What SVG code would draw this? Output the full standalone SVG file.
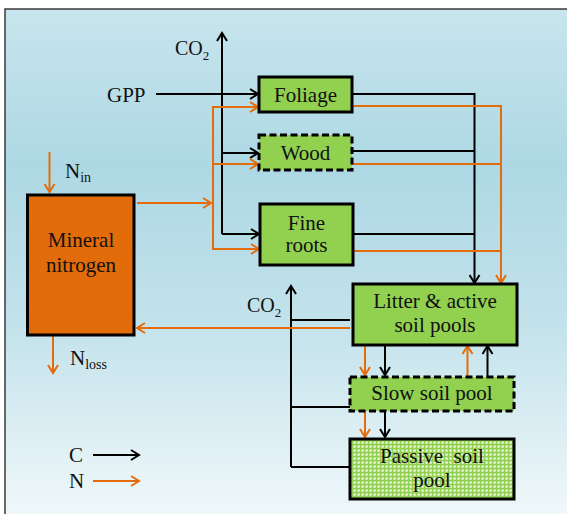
<svg xmlns="http://www.w3.org/2000/svg" width="567" height="514" viewBox="0 0 567 514">
<style>
text{font-family:'Liberation Serif','Times New Roman','DejaVu Serif',serif;fill:#111;}
.lbl{font-size:21px;text-anchor:middle;}
.box{stroke:#000;stroke-width:3;fill:#92d050;}
.dash{stroke-dasharray:7,3.5;}
.c{fill:none;stroke:#000;stroke-width:2;}
.n{fill:none;stroke:#e46c0a;stroke-width:2;}
.ca{marker-end:url(#ah-k);}
.na{marker-end:url(#ah-o);}
</style>
<defs>
<linearGradient id="bg" x1="0" y1="0" x2="0" y2="1">
<stop offset="0" stop-color="#c8e5ed"/>
<stop offset="0.3" stop-color="#add8e4"/>
<stop offset="0.6" stop-color="#c2e2eb"/>
<stop offset="1" stop-color="#f3f9fb"/>
</linearGradient>
<pattern id="chk" width="4" height="4" patternUnits="userSpaceOnUse">
<rect width="4" height="4" fill="#92d050"/>
<rect x="1.5" y="1.5" width="2.2" height="2.2" fill="#f4fbea"/>
</pattern>
<marker id="ah-k" viewBox="-10 -6 12 12" refX="0" refY="0" markerWidth="12" markerHeight="12" markerUnits="userSpaceOnUse" orient="auto">
<path d="M-8,-5 L0,0 L-8,5" fill="none" stroke="#000" stroke-width="2"/>
</marker>
<marker id="ah-o" viewBox="-10 -6 12 12" refX="0" refY="0" markerWidth="12" markerHeight="12" markerUnits="userSpaceOnUse" orient="auto">
<path d="M-8,-5 L0,0 L-8,5" fill="none" stroke="#e46c0a" stroke-width="2"/>
</marker>
</defs>
<rect width="567" height="514" fill="#fff"/>
<rect x="5" y="9" width="575" height="520" fill="url(#bg)" stroke="#3a3a3a" stroke-width="1.5"/>

<g id="connectors">
<path class="c ca" d="M222,234 V33"/>
<path class="c ca" d="M222,153 H258"/>
<path class="c ca" d="M222,234 H259"/>
<path class="c ca" d="M156,94 H258"/>
<path class="c ca" d="M352,94 H474.5 V283"/>
<path class="c" d="M352,151 H474.5"/>
<path class="c" d="M353,234 H474.5"/>
<path class="c ca" d="M291,467 V286"/>
<path class="c" d="M350,320 H291"/>
<path class="c" d="M350,407 H291"/>
<path class="c" d="M350,467 H291"/>
<path class="c ca" d="M385,346 V375"/>
<path class="c ca" d="M487.5,377 V346"/>
<path class="c ca" d="M385,411 V437"/>
<path class="c ca" d="M93,455 H139"/>
<path class="n na" d="M49.5,152 V192"/>
<path class="n na" d="M137,203 H211"/>
<path class="n" d="M213,107 V249"/>
<path class="n na" d="M212,107 H258"/>
<path class="n na" d="M212,164 H258"/>
<path class="n na" d="M212,249 H259"/>
<path class="n na" d="M352,106 H501 V283"/>
<path class="n" d="M352,164 H501"/>
<path class="n" d="M353,251 H501"/>
<path class="n na" d="M350,328 H137"/>
<path class="n na" d="M53,336 V373"/>
<path class="n na" d="M365,346 V375"/>
<path class="n na" d="M467.5,377 V346"/>
<path class="n na" d="M365,411 V437"/>
<path class="n na" d="M93,481 H139"/>
</g>

<g id="foliage">
<rect class="box" x="259" y="77" width="93" height="35"/>
<text class="lbl" x="305.5" y="101.5">Foliage</text>
</g>
<g id="wood">
<rect class="box dash" x="259" y="135" width="93" height="35"/>
<text class="lbl" x="305.5" y="160">Wood</text>
</g>
<g id="fine-roots">
<rect class="box" x="260" y="204" width="93" height="61"/>
<text class="lbl" x="306.5" y="230">Fine</text>
<text class="lbl" x="306.5" y="252">roots</text>
</g>
<g id="mineral-nitrogen">
<rect x="27.5" y="195" width="106.5" height="140" fill="#e36c0a" stroke="#000" stroke-width="3"/>
<text class="lbl" x="81" y="247">Mineral</text>
<text class="lbl" x="81" y="272">nitrogen</text>
</g>
<g id="litter">
<rect class="box" x="353" y="284" width="164" height="61"/>
<text class="lbl" x="435" y="308">Litter &amp; active</text>
<text class="lbl" x="435" y="332">soil pools</text>
</g>
<g id="slow">
<rect class="box dash" x="350" y="377" width="164" height="34"/>
<text class="lbl" x="432" y="400">Slow soil pool</text>
</g>
<g id="passive">
<rect x="350" y="439" width="164" height="60" fill="url(#chk)" stroke="#000" stroke-width="3"/>
<text class="lbl" x="432" y="463" style="white-space:pre">Passive  soil</text>
<text class="lbl" x="432" y="487">pool</text>
</g>

<g id="labels">
<text x="175" y="55" font-size="20">CO<tspan font-size="13" dy="5">2</tspan></text>
<text x="247" y="312" font-size="20">CO<tspan font-size="13" dy="5">2</tspan></text>
<text x="107" y="102" font-size="21">GPP</text>
<text x="65" y="178" font-size="21">N<tspan font-size="14" dy="4">in</tspan></text>
<text x="70" y="365" font-size="21">N<tspan font-size="14" dy="4">loss</tspan></text>
<text x="69" y="462" font-size="21">C</text>
<text x="69" y="488" font-size="21">N</text>
</g>
</svg>
